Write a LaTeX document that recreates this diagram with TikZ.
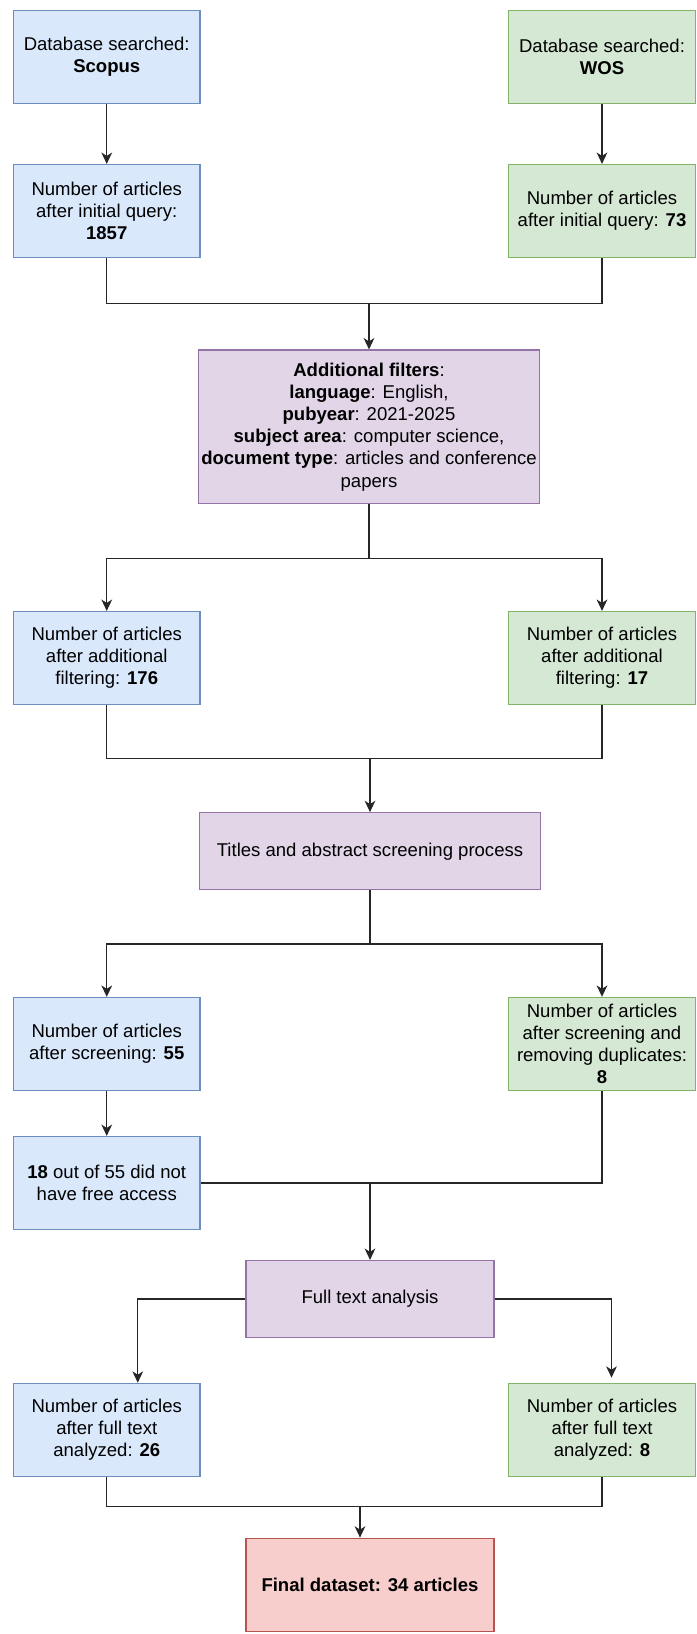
\documentclass[tikz,border=0pt]{standalone}
\usepackage{fontspec}
\setmainfont{Liberation Sans}
\usepackage{tikz}
\usetikzlibrary{arrows.meta,calc}

\definecolor{scopusfill}{HTML}{DAE8FC}
\definecolor{scopusline}{HTML}{6C8EBF}
\definecolor{wosfill}{HTML}{D5E8D4}
\definecolor{wosline}{HTML}{82B366}
\definecolor{stepfill}{HTML}{E1D5E7}
\definecolor{stepline}{HTML}{9673A6}
\definecolor{finalfill}{HTML}{F8CECC}
\definecolor{finalline}{HTML}{B85450}

\tikzset{
  box/.style={line width=0.9pt, align=center, inner sep=2pt,
    font=\fontsize{13.9pt}{16.65pt}\selectfont,
    minimum width=139.9pt, minimum height=69.75pt},
  scopusbox/.style={box, draw=scopusline, fill=scopusfill},
  wosbox/.style={box, draw=wosline, fill=wosfill},
  stepbox/.style={box, draw=stepline, fill=stepfill},
  finalbox/.style={box, draw=finalline, fill=finalfill},
  conn/.style={line width=1pt, draw=black!85},
  arr/.style={conn, -{Stealth[length=8.5pt,width=8pt,inset=2.5pt]}}
}

\begin{document}
\begin{tikzpicture}[x=0.75pt,y=-0.75pt]
  \useasboundingbox (0,0) rectangle (696,1634);

  \node[scopusbox] (scopus) at (106.75,57) {Database searched:\\\textbf{Scopus}};
  \node[wosbox] (wos) at (602,57) {Database searched:\\\textbf{WOS}};
  \node[scopusbox] (scopusQ) at (106.75,211) {Number of articles\\after initial query:\\\textbf{1857}};
  \node[wosbox] (wosQ) at (602,211) {Number of articles\\after initial query: \textbf{73}};

  \node[stepbox, minimum width=255pt, minimum height=115.1pt] (fil) at (369,426.75)
    {\textbf{Additional filters}:\\\textbf{language}: English,\\\textbf{pubyear}: 2021-2025\\
     \textbf{subject area}: computer science,\\\textbf{document type}: articles and conference\\papers};

  \node[scopusbox] (scopusF) at (106.75,658) {Number of articles\\after additional\\filtering: \textbf{176}};
  \node[wosbox] (wosF) at (602,658) {Number of articles\\after additional\\filtering: \textbf{17}};

  \node[stepbox, minimum width=255.75pt, minimum height=57.75pt] (titles) at (370,851.2)
    {Titles and abstract screening process};

  \node[scopusbox] (scopusS) at (106.75,1043.9) {Number of articles\\after screening: \textbf{55}};
  \node[wosbox] (wosS) at (602,1043.9) {Number of articles\\after screening and\\removing duplicates:\\\textbf{8}};
  \node[scopusbox] (access) at (106.75,1183) {\textbf{18} out of 55 did not\\have free access};

  \node[stepbox, minimum width=186pt, minimum height=57.75pt] (full) at (370,1299) {Full text analysis};

  \node[scopusbox] (scopusT) at (106.75,1429.8) {Number of articles\\after full text\\analyzed: \textbf{26}};
  \node[wosbox] (wosT) at (602,1429.8) {Number of articles\\after full text\\analyzed: \textbf{8}};

  \node[finalbox, minimum width=186pt] (final) at (370,1584.7) {\textbf{Final dataset: 34 articles}};

  \coordinate (j1) at (369,303.3);
  \coordinate (s1) at (369,558.3);
  \coordinate (j2) at (370,758.3);
  \coordinate (s2) at (370,944);
  \coordinate (j3) at (370,1183);
  \coordinate (j4) at (360,1506.6);

  \draw[arr] (scopus) -- (scopusQ);
  \draw[arr] (wos) -- (wosQ);
  \draw[conn] (scopusQ.south) |- (j1) -| (wosQ.south);
  \draw[arr] (j1) -- (fil.north -| j1);

  \draw[conn] (fil.south -| s1) -- (s1);
  \draw[arr] (s1) -| (scopusF.north);
  \draw[arr] (s1) -| (wosF.north);
  \draw[conn] (scopusF.south) |- (j2) -| (wosF.south);
  \draw[arr] (j2) -- (titles.north -| j2);

  \draw[conn] (titles.south) -- (s2);
  \draw[arr] (s2) -| (scopusS.north);
  \draw[arr] (s2) -| (wosS.north);
  \draw[arr] (scopusS) -- (access);
  \draw[conn] (access.east) -- (j3) -| (wosS.south);
  \draw[arr] (j3) -- (full.north -| j3);

  \draw[arr] (full.west) -| ($(scopusT.north)+(31,0)$);
  \draw[arr] (full.east) -| ($(wosT.north)+(9.5,-5)$);
  \draw[conn] (scopusT.south) |- (j4) -| (wosT.south);
  \draw[arr] (j4) -- (final.north -| j4);
\end{tikzpicture}
\end{document}
